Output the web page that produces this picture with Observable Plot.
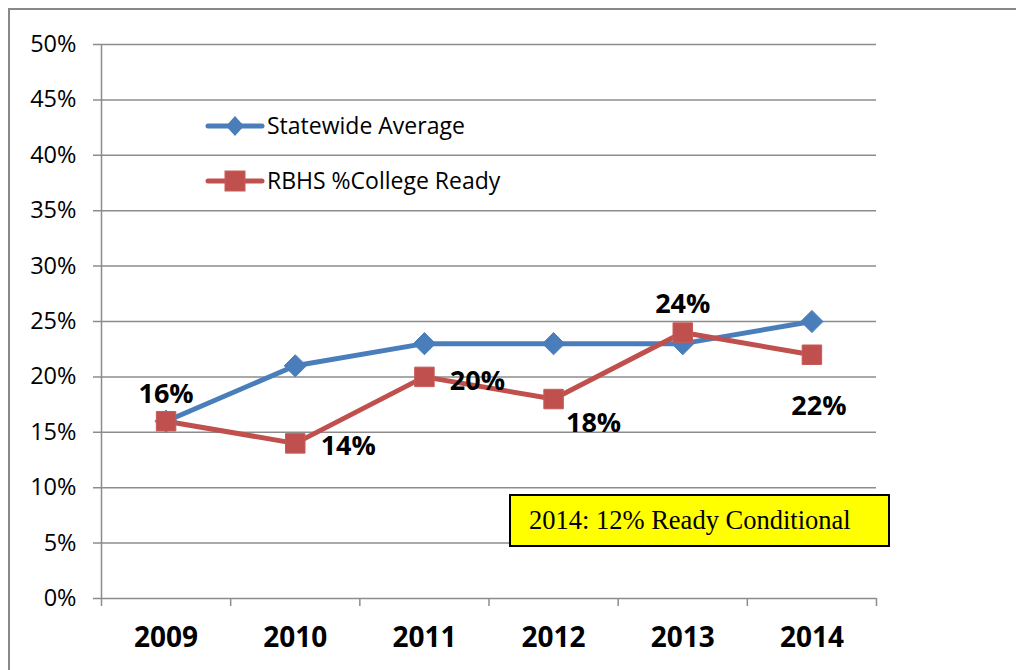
<!DOCTYPE html>
<html>
<head>
<meta charset="utf-8">
<script src="https://cdn.jsdelivr.net/npm/d3@7"></script>
<script src="https://cdn.jsdelivr.net/npm/@observablehq/plot@0.6"></script>
<style>
  html, body { margin: 0; padding: 0; background: #fff; }
  #wrap { position: relative; width: 1016px; height: 670px; overflow: hidden; font-family: "Open Sans", sans-serif; }
  #frame { position: absolute; left: 8px; top: 8px; width: 1100px; height: 800px; border: 2px solid #888; box-sizing: border-box; }
  #chart { position: absolute; left: 0; top: 0; }
  #legend { position: absolute; left: 0; top: 0; }
  #note { position: absolute; left: 509px; top: 494px; width: 381px; height: 53px; box-sizing: border-box;
          background: #ffff00; border: 2px solid #000; font-family: "Liberation Serif", "DejaVu Serif", serif;
          font-size: 26.5px; line-height: 49px; padding-left: 18px; color: #000; white-space: nowrap; }
</style>
</head>
<body>
<div id="wrap">
  <div id="frame"></div>
  <div id="chart"></div>
  <svg id="legend" width="1016" height="670"></svg>
  <div id="note">2014: 12% Ready Conditional</div>
</div>
<script>
const years = [2009, 2010, 2011, 2012, 2013, 2014];
const statewide = [0.16, 0.21, 0.23, 0.23, 0.23, 0.25];
const rbhs = [0.16, 0.14, 0.20, 0.18, 0.24, 0.22];
const yTicks = [0, 0.05, 0.10, 0.15, 0.20, 0.25, 0.30, 0.35, 0.40, 0.45, 0.50];
const seriesNames = ["Statewide Average", "RBHS %College Ready"];
const blue = "#4A7EBB", red = "#C0504D";
const font = "'Open Sans', sans-serif";

const sData = years.map((y, i) => ({year: y, value: statewide[i]}));
const rData = years.map((y, i) => ({year: y, value: rbhs[i]}));
const boundaries = [years[0] - 0.5, ...years.map(y => y + 0.5)];
// label placement (style) per RBHS point
const labelDx = [0, 53, 53, 40, 0, 7];
const labelDy = [-27, 3, 4, 24, -28, 52];

const labelMarks = rData.map((d, i) => Plot.text([d], {
  x: "year", y: "value", text: d => Math.round(d.value * 100) + "%",
  dx: labelDx[i], dy: labelDy[i], fontSize: 27, fontWeight: "bold", fill: "#000"
}));

const plot = Plot.plot({
  width: 1016, height: 670,
  marginLeft: 101, marginRight: 140, marginTop: 44, marginBottom: 72,
  style: {fontFamily: font, background: "transparent"},
  x: {type: "linear", domain: [years[0] - 0.5, years[years.length - 1] + 0.5], label: null},
  y: {type: "linear", domain: [0, 0.5], label: null},
  marks: [
    Plot.ruleY(yTicks, {y: d => d, x1: years[0] - 0.5 - 8 / 129, x2: years[years.length - 1] + 0.5, stroke: "#8c8c8c", strokeWidth: 1.5, clip: false}),
    Plot.ruleX([years[0] - 0.5], {y1: 0, y2: 0.5, stroke: "#8c8c8c", strokeWidth: 1.5}),
    Plot.axisX({ticks: boundaries, tickSize: 8, tickFormat: () => "", stroke: "#8c8c8c", strokeWidth: 1.5, tickPadding: 0, label: null}),
    Plot.axisX({ticks: years, tickSize: 0, tickPadding: 29, tickFormat: d => String(d), fontSize: 28, fontWeight: "bold", fill: "#000", label: null}),
    Plot.axisY({ticks: yTicks, tickSize: 0, tickPadding: 25, tickFormat: d => Math.round(d * 100) + "%", fontSize: 23.5, fill: "#000", label: null}),
    Plot.line(sData, {x: "year", y: "value", stroke: blue, strokeWidth: 5}),
    Plot.line(rData, {x: "year", y: "value", stroke: red, strokeWidth: 5}),
    Plot.dot(sData, {x: "year", y: "value", symbol: "diamond2", r: 10, fill: blue, stroke: blue, strokeWidth: 1}),
    Plot.dot(rData, {x: "year", y: "value", symbol: "square", r: 11, fill: red, stroke: "#c65c59", strokeWidth: 1}),
    ...labelMarks
  ]
});
document.getElementById("chart").appendChild(plot);

// legend (inside plot area, top-left)
const lg = d3.select("#legend");
const items = [{name: seriesNames[0], color: blue, sym: "diamond", y: 126}, {name: seriesNames[1], color: red, sym: "square", y: 181}];
items.forEach(it => {
  lg.append("line").attr("x1", 208).attr("x2", 262).attr("y1", it.y).attr("y2", it.y)
    .attr("stroke", it.color).attr("stroke-width", 5).attr("stroke-linecap", "round");
  if (it.sym === "diamond") {
    lg.append("path").attr("d", `M235,${it.y - 10}L244,${it.y}L235,${it.y + 10}L226,${it.y}Z`).attr("fill", it.color);
  } else {
    lg.append("rect").attr("x", 225).attr("y", it.y - 10).attr("width", 20).attr("height", 20).attr("fill", it.color).attr("stroke", "#c65c59");
  }
  lg.append("text").attr("x", 267).attr("y", it.y).attr("dy", "0.35em")
    .attr("font-family", font).attr("font-size", 23).attr("fill", "#000").text(it.name);
});
</script>
</body>
</html>
